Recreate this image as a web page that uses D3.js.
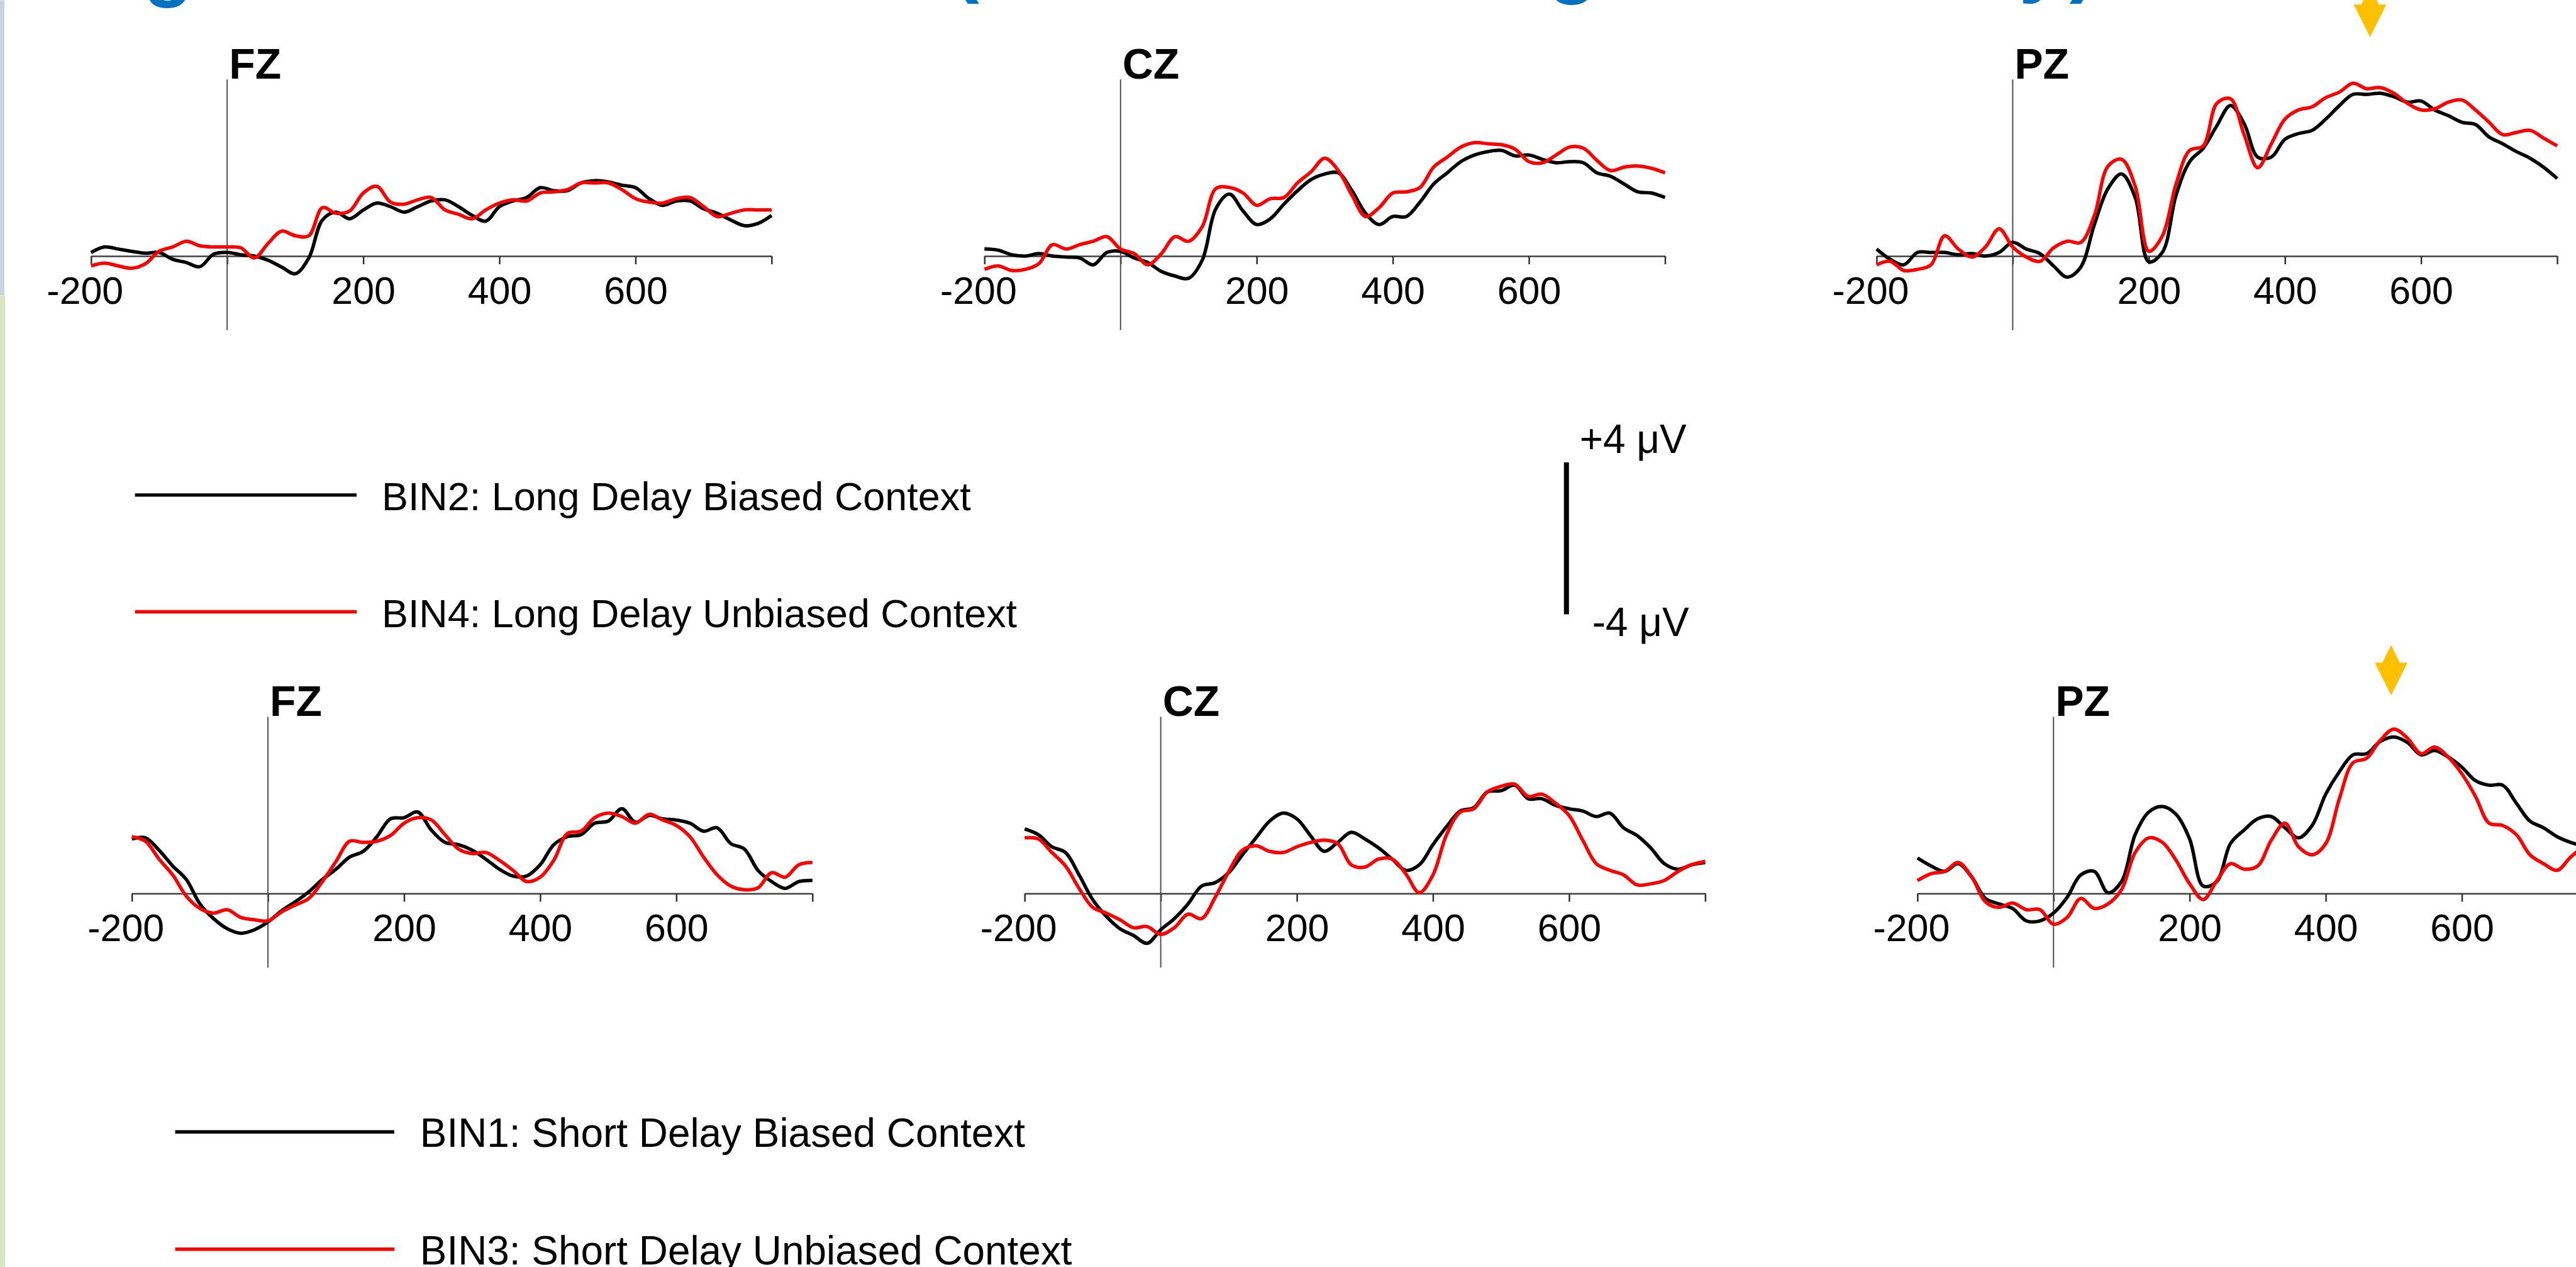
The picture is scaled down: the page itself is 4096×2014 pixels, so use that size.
<!DOCTYPE html>
<html>
<head>
<meta charset="utf-8">
<script src="https://cdn.jsdelivr.net/npm/d3@7"></script>
<style>
  html, body { margin: 0; padding: 0; background: #ffffff; overflow: hidden; }
  svg { display: block; }
</style>
</head>
<body>
<script>
'use strict';

// sample times (ms), one value every 20 ms
const times = [-200, -180, -160, -140, -120, -100, -80, -60, -40, -20,
  0, 20, 40, 60, 80, 100, 120, 140, 160, 180,
  200, 220, 240, 260, 280, 300, 320, 340, 360, 380,
  400, 420, 440, 460, 480, 500, 520, 540, 560, 580,
  600, 620, 640, 660, 680, 700, 720, 740, 760, 780, 800];

const tickValues = [-200, 0, 200, 400, 600, 800];
const tickLabels = ['-200', '', '200', '400', '600', ''];
const channels = ['FZ', 'CZ', 'PZ'];

// long delay (top row), microvolts
const bin2Fz = [0.19, 0.48, 0.37, 0.25, 0.15, 0.19, -0.17, -0.34, -0.56, 0.10,
  0.19, 0.07, 0.00, -0.22, -0.58, -0.93, -0.10, 1.90, 2.31, 1.96,
  2.42, 2.79, 2.60, 2.31, 2.60, 2.90, 2.96, 2.60, 2.14, 1.84,
  2.60, 2.90, 3.08, 3.60, 3.44, 3.44, 3.85, 3.97, 3.90, 3.73,
  3.60, 3.02, 2.67, 2.90, 2.90, 2.49, 2.25, 1.90, 1.60, 1.72, 2.14];
const bin4Fz = [-0.52, -0.37, -0.52, -0.64, -0.40, 0.25, 0.48, 0.78, 0.54, 0.48,
  0.48, 0.43, -0.10, 0.66, 1.31, 1.07, 1.07, 2.55, 2.25, 2.37,
  3.32, 3.67, 2.84, 2.73, 2.96, 3.08, 2.43, 2.20, 1.96, 2.43,
  2.79, 2.96, 2.90, 3.32, 3.38, 3.50, 3.85, 3.85, 3.85, 3.50,
  3.02, 2.84, 2.79, 3.02, 3.08, 2.61, 2.08, 2.25, 2.43, 2.43, 2.43];
const bin2Cz = [0.37, 0.31, 0.07, 0.00, 0.13, 0.00, -0.05, -0.10, -0.46, 0.19,
  0.25, -0.10, -0.34, -0.81, -1.05, -1.17, -0.22, 2.49, 3.26, 2.37,
  1.66, 1.96, 2.73, 3.44, 4.03, 4.32, 4.38, 3.44, 2.25, 1.66,
  2.08, 2.08, 2.84, 3.79, 4.38, 4.97, 5.32, 5.50, 5.56, 5.27,
  5.32, 5.09, 4.91, 4.97, 4.91, 4.38, 4.20, 3.79, 3.38, 3.32, 3.08];
const bin4Cz = [-0.70, -0.52, -0.76, -0.70, -0.40, 0.60, 0.37, 0.60, 0.78, 1.02,
  0.37, 0.13, -0.46, 0.13, 1.02, 0.78, 1.55, 3.55, 3.61, 3.32,
  2.67, 3.02, 3.08, 3.85, 4.44, 5.15, 4.50, 3.20, 2.08, 2.55,
  3.32, 3.38, 3.61, 4.68, 5.21, 5.74, 5.97, 5.91, 5.86, 5.62,
  4.97, 4.91, 5.32, 5.74, 5.68, 5.03, 4.50, 4.68, 4.74, 4.62, 4.38];
const bin2Pz = [0.37, -0.17, -0.46, 0.19, 0.19, 0.19, 0.07, 0.13, 0.00, 0.19,
  0.72, 0.37, 0.13, -0.52, -1.11, -0.58, 1.66, 3.55, 4.32, 3.08,
  -0.30, 0.20, 3.20, 4.97, 5.68, 6.86, 7.92, 6.98, 5.21, 5.21,
  6.15, 6.45, 6.62, 7.21, 7.92, 8.51, 8.51, 8.57, 8.39, 8.10,
  8.16, 7.69, 7.39, 7.04, 6.92, 6.27, 5.91, 5.50, 5.15, 4.68, 4.08];
const bin4Pz = [-0.46, -0.28, -0.76, -0.70, -0.46, 1.07, 0.37, -0.05, 0.48, 1.43,
  0.48, -0.05, -0.28, 0.43, 0.78, 0.72, 2.14, 4.73, 5.09, 3.67,
  0.25, 1.07, 3.79, 5.56, 5.80, 8.04, 8.28, 6.39, 4.65, 5.91,
  7.21, 7.69, 7.86, 8.34, 8.63, 9.10, 8.81, 8.87, 8.57, 8.04,
  7.69, 7.75, 8.10, 8.22, 7.69, 7.04, 6.39, 6.51, 6.62, 6.21, 5.80];

// short delay (bottom row), microvolts
const bin1Fz = [2.87, 2.93, 2.28, 1.45, 0.74, -0.55, -1.32, -1.85, -2.09, -1.91,
  -1.50, -0.91, -0.44, 0.09, 0.74, 1.28, 1.92, 2.22, 2.99, 3.93,
  3.99, 4.29, 3.34, 2.69, 2.57, 2.28, 1.81, 1.28, 0.92, 0.92,
  1.51, 2.57, 2.99, 3.10, 3.70, 3.81, 4.46, 3.75, 4.11, 3.93,
  3.87, 3.70, 3.28, 3.46, 2.63, 2.34, 1.22, 0.63, 0.27, 0.63, 0.69];
const bin3Fz = [2.99, 2.75, 1.81, 0.98, -0.14, -0.79, -1.03, -0.85, -1.26, -1.38,
  -1.44, -0.97, -0.61, -0.26, 0.63, 1.69, 2.75, 2.69, 2.75, 3.05,
  3.70, 3.99, 3.87, 3.10, 2.34, 2.10, 2.16, 1.75, 1.22, 0.63,
  0.86, 1.75, 3.16, 3.28, 3.99, 4.23, 4.05, 3.70, 4.17, 3.87,
  3.58, 2.99, 1.92, 0.98, 0.39, 0.20, 0.30, 1.10, 0.86, 1.51, 1.63];
const bin1Cz = [3.40, 3.10, 2.46, 2.16, 0.98, -0.32, -1.20, -1.85, -2.21, -2.62,
  -1.91, -1.32, -0.55, 0.39, 0.57, 1.10, 2.04, 2.93, 3.81, 4.23,
  3.93, 3.05, 2.22, 2.69, 3.22, 2.87, 2.40, 1.81, 1.22, 1.51,
  2.57, 3.52, 4.34, 4.52, 5.35, 5.41, 5.70, 4.99, 4.99, 4.64,
  4.46, 4.34, 4.05, 4.23, 3.46, 3.05, 2.40, 1.57, 1.28, 1.51, 1.63];
const bin3Cz = [2.93, 2.87, 2.16, 1.45, 0.27, -0.73, -1.03, -1.38, -1.80, -1.74,
  -2.15, -1.80, -1.09, -1.32, -0.20, 1.16, 2.28, 2.51, 2.22, 2.16,
  2.46, 2.69, 2.81, 2.63, 1.51, 1.39, 1.81, 1.81, 1.04, 0.04,
  0.98, 3.10, 4.28, 4.46, 5.35, 5.64, 5.76, 5.11, 5.23, 4.76,
  4.11, 2.81, 1.57, 1.22, 0.98, 0.45, 0.51, 0.69, 1.16, 1.51, 1.69];
const bin1Pz = [1.87, 1.45, 1.16, 1.57, 0.86, -0.26, -0.55, -0.79, -1.44, -1.44,
  -1.03, -0.20, 0.98, 1.16, 0.04, 0.63, 3.10, 4.29, 4.58, 4.17,
  2.87, 0.39, 0.63, 2.63, 3.34, 3.93, 4.05, 3.46, 2.93, 3.58,
  5.23, 6.41, 7.30, 7.36, 8.00, 8.24, 7.95, 7.30, 7.53, 7.18,
  6.65, 5.94, 5.70, 5.70, 4.76, 3.81, 3.46, 2.99, 2.69, 2.50, 2.40];
const bin3Pz = [0.68, 1.04, 1.16, 1.63, 0.86, -0.44, -0.73, -0.50, -0.85, -0.85,
  -1.62, -1.26, -0.26, -0.79, -0.55, 0.21, 2.16, 2.93, 2.69, 1.75,
  0.51, -0.32, 0.68, 1.57, 1.28, 1.45, 2.81, 3.70, 2.46, 2.04,
  2.63, 4.99, 6.88, 7.12, 8.06, 8.65, 8.18, 7.36, 7.71, 7.18,
  6.30, 5.11, 3.70, 3.58, 3.10, 2.04, 1.57, 1.22, 1.92, 2.50, 2.90];

const legendLong = ['BIN2: Long Delay Biased Context', 'BIN4: Long Delay Unbiased Context'];
const legendShort = ['BIN1: Short Delay Biased Context', 'BIN3: Short Delay Unbiased Context'];
const scaleLabels = ['+4 \u03bcV', '-4 \u03bcV'];
const arrowTimes = [525, 496]; // top PZ, bottom PZ

(function() {

  const W = 4103, H = 2017;
  const pxPerUv = 30.25;
  const spanPx = 1084; // width of 1000 ms
  const font = "'Liberation Sans', Arial, sans-serif";
  const colours = ['#000000', '#ff0000'];

  let svg = d3.select('body').append('svg')
    .attr('width', 4096)
    .attr('height', 2014)
    .attr('viewBox', '0 0 ' + W + ' ' + H);

  // slide edge strip
  svg.append('rect').attr('x', 0).attr('y', 0).attr('width', 7).attr('height', 470).attr('fill', '#c8d5e0');
  svg.append('rect').attr('x', 0).attr('y', 470).attr('width', 8).attr('height', H - 470).attr('fill', '#d9e5c3');

  // clipped title (only descenders show at the top edge)
  const titleBits = [
    {ch: 'g', x: 268, y: -15}, {ch: '(', x: 1538, y: -21},
    {ch: 'g', x: 2505, y: -20}, {ch: 'y', x: 3252, y: -21}, {ch: ')', x: 3318, y: -21}
  ];
  svg.selectAll('text.title').data(titleBits).enter().append('text')
    .attr('class', 'title')
    .attr('x', d => d.x).attr('y', d => d.y)
    .attr('text-anchor', 'middle')
    .style('font-family', font).style('font-weight', 'bold').style('font-size', '130px')
    .attr('fill', '#0070c0')
    .text(d => d.ch);

  const rows = [
    {axisY: 407.5, x0: [145, 1568, 2989], series: [[bin2Fz, bin4Fz], [bin2Cz, bin4Cz], [bin2Pz, bin4Pz]]},
    {axisY: 1422.5, x0: [210, 1632, 3054], series: [[bin1Fz, bin3Fz], [bin1Cz, bin3Cz], [bin1Pz, bin3Pz]]}
  ];

  rows.forEach(function(row, r) {
    let y = d3.scaleLinear()
      .domain([-4, 4])
      .range([row.axisY + 4 * pxPerUv, row.axisY - 4 * pxPerUv]);

    channels.forEach(function(ch, c) {
      let x = d3.scaleLinear()
        .domain([-200, 800])
        .range([row.x0[c], row.x0[c] + spanPx]);
      let g = svg.append('g');

      // x axis
      let axis = d3.axisBottom(x)
        .tickValues(tickValues)
        .tickSize(13)
        .tickSizeOuter(0)
        .tickPadding(20)
        .tickFormat((d, i) => tickLabels[i]);
      let ax = g.append('g')
        .attr('transform', 'translate(0,' + row.axisY + ')')
        .call(axis);
      ax.select('.domain').attr('stroke', '#404040').attr('stroke-width', 2.5);
      ax.selectAll('.tick line').attr('stroke', '#303030').attr('stroke-width', 2.5);
      ax.selectAll('.tick text')
        .attr('fill', '#000')
        .attr('dx', d => d < 0 ? -10 : 0)
        .style('font-family', font)
        .style('font-size', '61px');

      // 0 ms line
      g.append('line')
        .attr('x1', x(0)).attr('x2', x(0))
        .attr('y1', y(9.3)).attr('y2', y(-3.9))
        .attr('stroke', '#505050').attr('stroke-width', 2);

      // channel name
      g.append('text')
        .attr('x', x(0) + 3)
        .attr('y', y(9.3) - 1)
        .style('font-family', font)
        .style('font-weight', 'bold')
        .style('font-size', '68px')
        .text(ch);

      // waveforms
      let line = d3.line()
        .x((d, i) => x(times[i]))
        .y(d => y(d))
        .curve(d3.curveCatmullRom.alpha(0.5));
      row.series[c].forEach(function(vals, s) {
        g.append('path')
          .attr('d', line(vals))
          .attr('fill', 'none')
          .attr('stroke', colours[s])
          .attr('stroke-width', 5.5)
          .attr('stroke-linejoin', 'round');
      });

      // yellow arrow over PZ
      if (c === 2) {
        let ax0 = x(arrowTimes[r]);
        let ay = r === 0 ? 7 : 1055;
        let pts = [[0, -28], [14, 0], [26, 0], [0, 52], [-26, 0], [-14, 0]];
        g.append('polygon')
          .attr('points', pts.map(p => (ax0 + p[0]) + ',' + (ay + p[1])).join(' '))
          .attr('fill', '#ffc000');
      }
    });
  });

  // legends
  function legend(labels, x1, x2, tx, ys, size) {
    labels.forEach(function(lab, i) {
      svg.append('line')
        .attr('x1', x1).attr('x2', x2)
        .attr('y1', ys[i]).attr('y2', ys[i])
        .attr('stroke', colours[i]).attr('stroke-width', 5.5);
      svg.append('text')
        .attr('x', tx).attr('y', ys[i] + 24)
        .style('font-family', font)
        .style('font-size', size + 'px')
        .text(lab);
    });
  }
  legend(legendLong, 215, 568, 608, [788, 974], 63);
  legend(legendShort, 279, 628, 669, [1802, 1989], 64);

  // calibration bar
  let barY = d3.scaleLinear().domain([-4, 4]).range([857 + 4 * pxPerUv, 857 - 4 * pxPerUv]);
  svg.append('line')
    .attr('x1', 2495).attr('x2', 2495)
    .attr('y1', barY(4)).attr('y2', barY(-4))
    .attr('stroke', '#000').attr('stroke-width', 8);
  svg.append('text')
    .attr('x', 2516).attr('y', barY(4) - 15)
    .style('font-family', font).style('font-size', '64px')
    .text(scaleLabels[0]);
  svg.append('text')
    .attr('x', 2536).attr('y', barY(-4) + 35)
    .style('font-family', font).style('font-size', '64px')
    .text(scaleLabels[1]);

})();
</script>
</body>
</html>
